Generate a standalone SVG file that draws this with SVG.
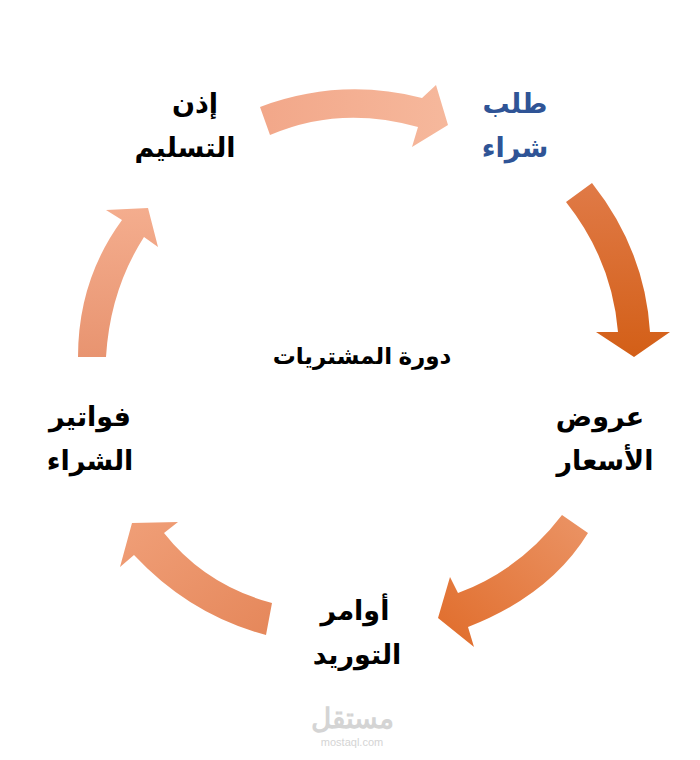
<svg xmlns="http://www.w3.org/2000/svg" width="700" height="760" viewBox="0 0 700 760">
<style>
.t{font-family:"Liberation Sans","DejaVu Sans",sans-serif;font-weight:bold;font-size:27px;fill:#000;text-anchor:middle}
.b{fill:#2f5496}
</style>
<defs>
<linearGradient id="g1" x1="0" y1="0" x2="1" y2="0"><stop offset="0" stop-color="#f2a789"/><stop offset="1" stop-color="#f6b89c"/></linearGradient>
<linearGradient id="g2" x1="0" y1="0" x2="0" y2="1"><stop offset="0" stop-color="#e07a47"/><stop offset="1" stop-color="#d35f17"/></linearGradient>
<linearGradient id="g3" x1="1" y1="0" x2="0" y2="1"><stop offset="0" stop-color="#eb9466"/><stop offset="1" stop-color="#e06c2a"/></linearGradient>
<linearGradient id="g4" x1="1" y1="1" x2="0" y2="0"><stop offset="0" stop-color="#e5875a"/><stop offset="1" stop-color="#f09f78"/></linearGradient>
<linearGradient id="g5" x1="0" y1="1" x2="0" y2="0"><stop offset="0" stop-color="#e89470"/><stop offset="1" stop-color="#f4ad8e"/></linearGradient>
</defs>
<g id="connectors">
<path d="M260,107 Q340,77 422,98 L436,85 L448,125 L412,147 L418,127 Q340,105 270,135 Z" fill="url(#g1)"/>
<path d="M592,183 Q645,250 650,332 L670,332 L634,357 L596,332 L618,332 Q612,260 566,202 Z" fill="url(#g2)"/>
<path d="M562,515 Q520,570 458,593 L450,577 L438,618 L474,647 L468,627 Q550,595 588,533 Z" fill="url(#g3)"/>
<path d="M272,603 Q205,585 164,533 L178,522 L132,523 L120,567 L134,555 Q190,615 266,635 Z" fill="url(#g4)"/>
<path d="M78,357 Q78,280 122,220 L106,210 L148,208 L158,247 L144,237 Q110,290 106,357 Z" fill="url(#g5)"/>
</g>
<g id="n1"><text class="t" x="195" y="113">إذن</text><text class="t" x="185" y="157">التسليم</text></g>
<g id="n2"><text class="t b" x="515" y="113">طلب</text><text class="t b" x="515" y="157">شراء</text></g>
<g id="n3"><text class="t" x="600" y="426">عروض</text><text class="t" x="605" y="470">الأسعار</text></g>
<g id="n4"><text class="t" x="355" y="620">أوامر</text><text class="t" x="357" y="664">التوريد</text></g>
<g id="n5"><text class="t" x="90" y="426">فواتير</text><text class="t" x="90" y="470">الشراء</text></g>
<g id="center"><text class="t" x="362" y="364" style="font-size:23px">دورة المشتريات</text></g>
<g id="wm"><text x="352" y="728" style="font-family:'Liberation Sans',sans-serif;font-weight:bold;font-size:28px;fill:#d4d4d4;text-anchor:middle">مستقل</text><text x="352" y="746" style="font-family:'Liberation Sans',sans-serif;font-size:11px;fill:#d4d4d4;text-anchor:middle">mostaql.com</text></g>
</svg>
